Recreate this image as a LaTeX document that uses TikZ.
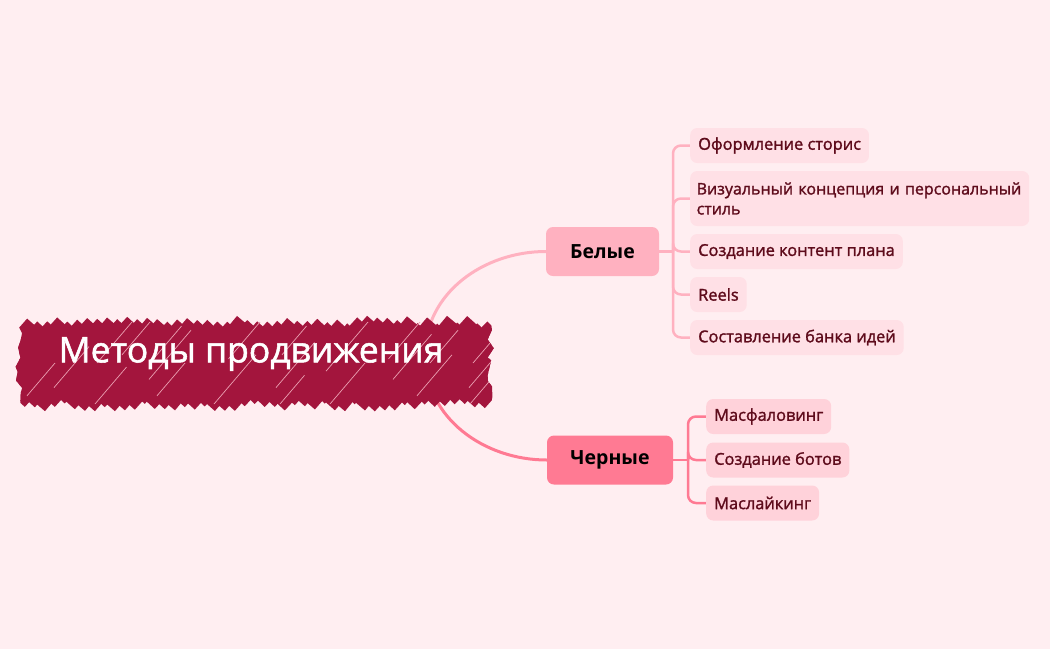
\documentclass[tikz,border=0pt]{standalone}
\usepackage{fontspec}
\setmainfont{Open Sans}
\newfontfamily\medfont{Open Sans}[FakeBold=1.5]
\usetikzlibrary{decorations.pathmorphing,calc}
\definecolor{bgc}{HTML}{FFEEF1}
\definecolor{cenc}{HTML}{A3153D}
\definecolor{cenline}{HTML}{EBA0B2}
\definecolor{belc}{HTML}{FFB1C0}
\definecolor{cherc}{HTML}{FF7A93}
\definecolor{wchild}{HTML}{FFE0E6}
\definecolor{bchild}{HTML}{FFD2DA}
\definecolor{txtc}{HTML}{5E0B1B}
\pgfdeclarelayer{bg}
\pgfdeclarelayer{mid}
\pgfsetlayers{bg,mid,main}
\tikzset{
  branchbox/.style={rounded corners=7pt, minimum height=49pt, inner xsep=0pt, text=black, font=\fontsize{19.5}{24}\selectfont\bfseries},
  childbox/.style={rounded corners=7pt, minimum height=35pt, inner xsep=8pt, inner ysep=0pt, anchor=west, text=txtc, font=\fontsize{16.4}{20}\medfont, align=left},
  wchildbox/.style={childbox, fill=wchild},
  bchildbox/.style={childbox, fill=bchild},
  wline/.style={draw=belc, line width=2.5pt},
  bline/.style={draw=cherc, line width=2.5pt},
  scribble/.style={draw=cenc, line width=13pt, line cap=butt},
}
\begin{document}
\begin{tikzpicture}[x=1pt,y=-1pt]
\pgfmathsetseed{11}
\begin{pgfonlayer}{bg}
\fill[bgc] (0,0) rectangle (1050,649);
\end{pgfonlayer}
\useasboundingbox (0,0) rectangle (1050,649);

% central
\node[text=white, font=\fontsize{35.5}{40}\medfont] (cen) at (251,354) {Методы продвижения};
\coordinate (cstart) at (425,355);

% branches
\node[branchbox, fill=belc, minimum width=113pt] (bel) at (602.5,251.5) {Белые};
\node[branchbox, fill=cherc, minimum width=126pt] (cher) at (610,460) {Черные};

% white children
\node[wchildbox] (w1) at (690,145.5) {Оформление сторис};
\node[wchildbox, font=\fontsize{16}{20}\medfont, minimum height=55pt, text width=326pt, inner xsep=6.5pt] (w2) at (690,198.5) {Визуальный концепция и персональный\\стиль};
\node[wchildbox] (w3) at (690,251.5) {Создание контент плана};
\node[wchildbox] (w4) at (690,294.5) {Reels};
\node[wchildbox] (w5) at (690,337.5) {Составление банка идей};

% black children
\node[bchildbox] (b1) at (706,416.5) {Масфаловинг};
\node[bchildbox] (b2) at (706,460) {Создание ботов};
\node[bchildbox] (b3) at (706,503) {Маслайкинг};

\coordinate (wj) at (673,251.5);
\coordinate (bj) at (688,460);

\begin{pgfonlayer}{bg}
\draw[wline, line width=3pt] (cstart) to[out=90,in=180] (bel.west);
\draw[bline, line width=3pt] (cstart) to[out=-90,in=180] (cher.west);
\draw[wline] (bel.east) -- (wj);
\draw[bline] (cher.east) -- (bj);
\foreach \c in {w1,w2,w3,w4,w5} {\draw[wline, rounded corners=8pt] (wj) |- (\c.west);}
\foreach \c in {b1,b2,b3} {\draw[bline, rounded corners=8pt] (bj) |- (\c.west);}
\end{pgfonlayer}

% scribble background of central topic
\begin{pgfonlayer}{mid}
\begin{scope}
\clip[decorate, decoration={random steps, segment length=8pt, amplitude=3.5pt}] (19,300) -- (491,300) -- (491,420) -- (19,420) -- cycle;
\fill[cenc] (28,333) rectangle (482,393);
\foreach \i in {0,...,52} {
  \pgfmathsetmacro{\x}{-40+\i*10}
  \pgfmathsetmacro{\rb}{rnd*8}
  \pgfmathsetmacro{\rt}{rnd*8}
  \draw[scribble] (\x,407-\rb) -- (\x+72,320+\rt);
}
\foreach \x/\a/\b in {40/0.2/0.7, 62/0.5/1, 95/0/0.45, 128/0.3/0.9, 150/0.1/0.5, 190/0.55/1, 214/0/0.6, 262/0.2/0.75, 298/0.4/1, 330/0/0.5, 372/0.3/0.85, 410/0.1/0.6, 438/0.5/1, 470/0/0.4, 80/0.6/1, 240/0.6/0.95, 350/0.55/1, 455/0.2/0.55, 20/0.1/0.5, 115/0.55/0.95, 280/0/0.35, 395/0.5/0.9} {
  \draw[cenline, line width=0.7pt] ($(\x,404)!\a!(\x+70,322)$) -- ($(\x,404)!\b!(\x+70,322)$);
}
\end{scope}
\end{pgfonlayer}
\end{tikzpicture}
\end{document}
